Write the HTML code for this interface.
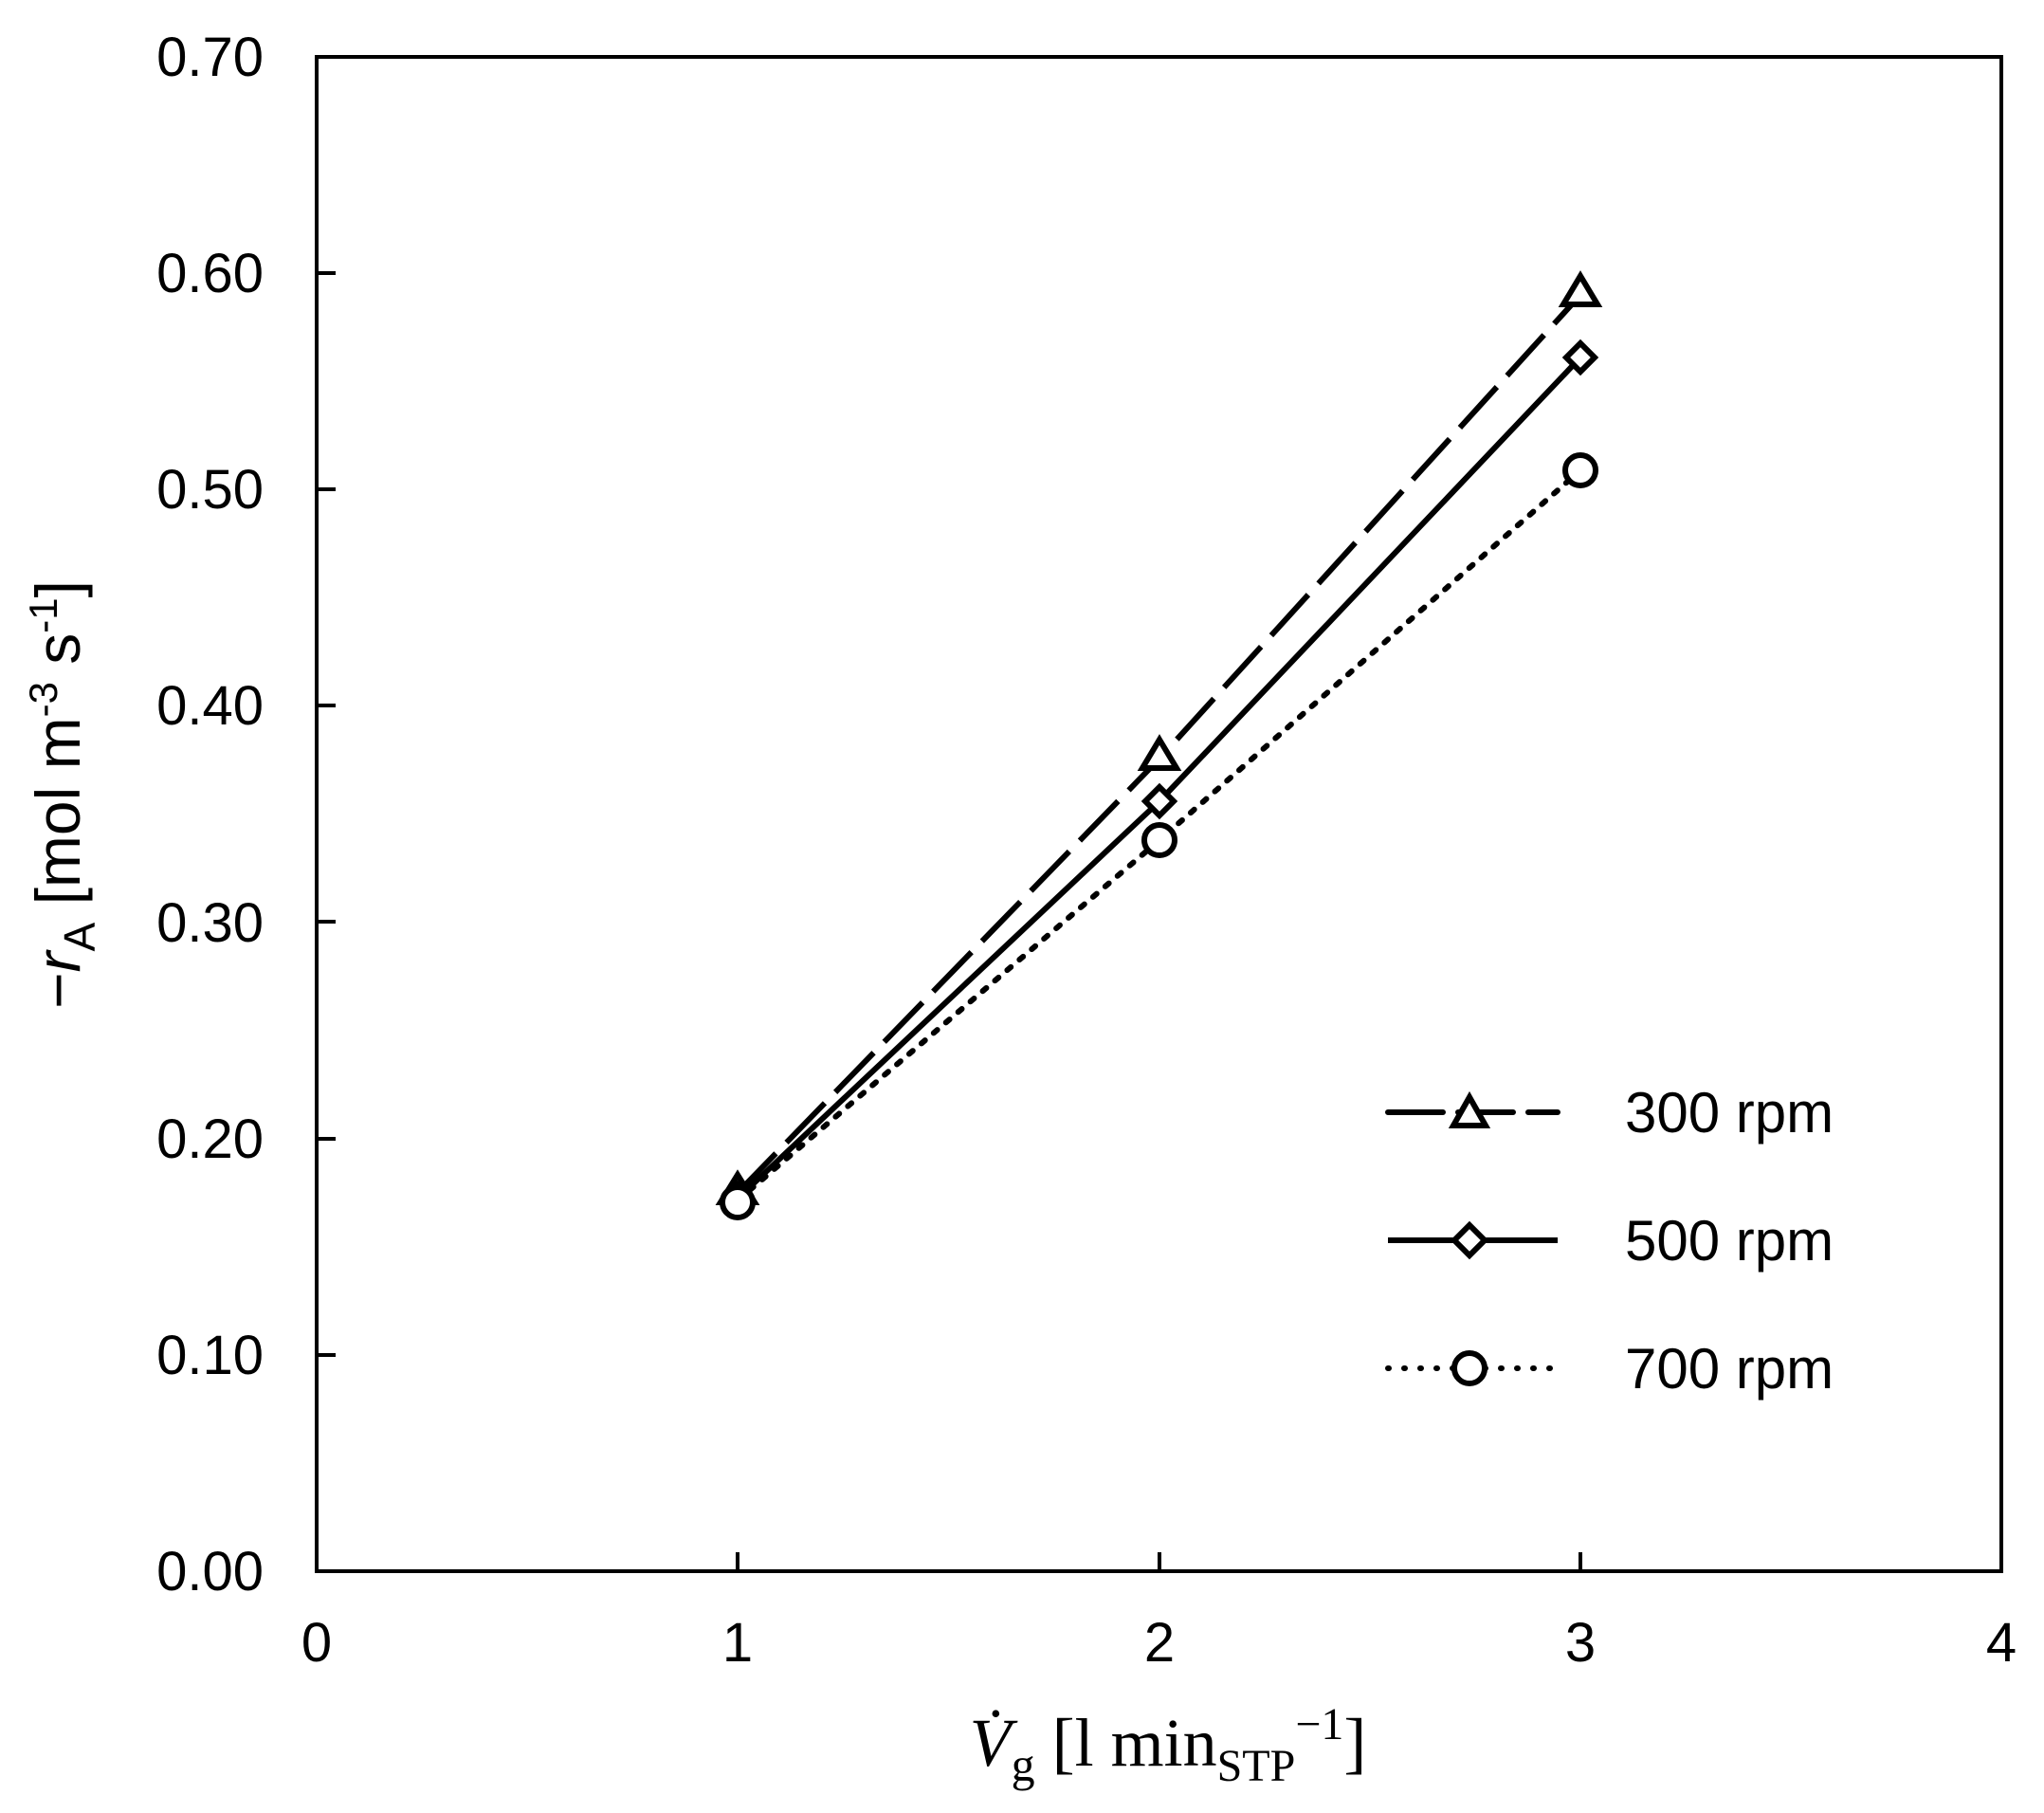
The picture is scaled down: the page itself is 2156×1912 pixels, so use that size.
<!DOCTYPE html>
<html><head><meta charset="utf-8"><style>html,body{margin:0;padding:0;background:#fff}svg{display:block}</style></head>
<body>
<svg width="2156" height="1912" viewBox="0 0 2156 1912" xmlns="http://www.w3.org/2000/svg">
<rect width="2156" height="1912" fill="#fff"/>
<g font-family="Liberation Sans, Arial, sans-serif" font-size="58" fill="#000">
<rect x="334" y="60" width="1777" height="1597" fill="none" stroke="#000" stroke-width="4"/>
<g stroke="#000" stroke-width="4">
<line x1="334" y1="1429" x2="354" y2="1429"/><line x1="334" y1="1201" x2="354" y2="1201"/>
<line x1="334" y1="972" x2="354" y2="972"/><line x1="334" y1="744" x2="354" y2="744"/>
<line x1="334" y1="516" x2="354" y2="516"/><line x1="334" y1="288" x2="354" y2="288"/>
<line x1="778" y1="1657" x2="778" y2="1637"/><line x1="1223" y1="1657" x2="1223" y2="1637"/>
<line x1="1667" y1="1657" x2="1667" y2="1637"/>
</g>
<g text-anchor="end">
<text x="278" y="80">0.70</text><text x="278" y="308">0.60</text><text x="278" y="536">0.50</text>
<text x="278" y="764">0.40</text><text x="278" y="993">0.30</text><text x="278" y="1221">0.20</text>
<text x="278" y="1449">0.10</text><text x="278" y="1677">0.00</text>
</g>
<g text-anchor="middle">
<text x="334" y="1752">0</text><text x="778" y="1752">1</text><text x="1223" y="1752">2</text>
<text x="1667" y="1752">3</text><text x="2111" y="1752">4</text>
</g>
<text transform="translate(84,838) rotate(-90)" text-anchor="middle" font-size="66">−<tspan font-style="italic">r</tspan><tspan font-size="46" dy="16">A</tspan><tspan dy="-16"> [mol m</tspan><tspan font-size="42" dy="-24">-3</tspan><tspan dy="24"> s</tspan><tspan font-size="42" dy="-24">-1</tspan><tspan dy="24">]</tspan></text>
<text x="1232" y="1862" text-anchor="middle" font-family="Liberation Serif, serif" font-size="72"><tspan font-style="italic">V̇</tspan><tspan font-size="50" dy="16">g</tspan><tspan dy="-16"> [l min</tspan><tspan font-size="48" dy="16">STP</tspan><tspan font-size="48" dy="-44">−1</tspan><tspan dy="28">]</tspan></text>
<g fill="none" stroke="#000" stroke-width="6">
<polyline points="778,1258 1223,800 1667,311" stroke-dasharray="58,16"/>
<polyline points="778,1264 1223,845 1667,377"/>
<polyline points="778,1266 1223,886 1667,496" stroke-dasharray="5,12" stroke-linecap="round"/>
</g>
<g fill="#fff" stroke="#000" stroke-width="6">
<polygon points="778,1239 796,1268 760,1268"/>
<polygon points="1223,780 1241,810 1205,810"/>
<polygon points="1667,291 1685,321 1649,321"/>
<polygon points="778,1249 793,1264 778,1279 763,1264"/>
<polygon points="1223,830 1238,845 1223,860 1208,845"/>
<polygon points="1667,362 1682,377 1667,392 1652,377"/>
<circle cx="778" cy="1268" r="16"/><circle cx="1223" cy="886" r="16"/><circle cx="1667" cy="496" r="16"/>
</g>
<g fill="none" stroke="#000" stroke-width="6">
<line x1="1464" y1="1173" x2="1643" y2="1173" stroke-dasharray="58,16" stroke-linecap="round"/>
<line x1="1464" y1="1308" x2="1643" y2="1308"/>
<line x1="1464" y1="1443" x2="1643" y2="1443" stroke-dasharray="1,16" stroke-linecap="round"/>
</g>
<g fill="#fff" stroke="#000" stroke-width="6">
<polygon points="1550,1157 1567,1187 1533,1187"/>
<polygon points="1550,1292 1566,1308 1550,1324 1534,1308"/>
<circle cx="1550" cy="1443" r="16"/>
</g>
<text x="1714" y="1194" font-size="60">300 rpm</text>
<text x="1714" y="1329" font-size="60">500 rpm</text>
<text x="1714" y="1464" font-size="60">700 rpm</text>
</g>
</svg>
</body></html>
